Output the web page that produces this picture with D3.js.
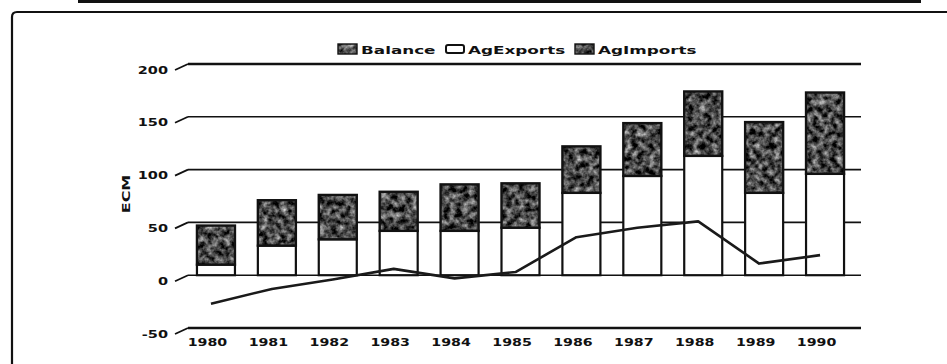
<!DOCTYPE html>
<html>
<head>
<meta charset="utf-8">
<script src="https://cdn.jsdelivr.net/npm/d3@7/dist/d3.min.js"></script>
<style>
  html, body { margin: 0; padding: 0; background: #fff; }
  svg { display: block; }
  text { font-family: "DejaVu Sans", sans-serif; font-weight: bold; fill: #111; }
</style>
</head>
<body>
<svg id="chart" width="947" height="364"></svg>
<script>
// ---- data ----
const years = ["1980","1981","1982","1983","1984","1985","1986","1987","1988","1989","1990"];
const agExports = [10, 28, 34, 42, 42, 45, 78, 94, 113, 78, 96];
const agImports = [37, 43, 42, 37, 44, 42, 44, 50, 61, 67, 77];
const balance   = [-27, -13, -4, 6, -3, 3, 36, 45, 51, 11, 19];
const yTicks = [-50, 0, 50, 100, 150, 200];
const legendItems = ["Balance", "AgExports", "AgImports"];
const yTitle = "ECM";

// ---- setup ----
const svg = d3.select("#chart");
const defs = svg.append("defs");
const filt = defs.append("filter").attr("id", "grain")
  .attr("color-interpolation-filters", "sRGB")
  .attr("x", "0").attr("y", "0").attr("width", "1").attr("height", "1");
filt.append("feTurbulence").attr("type", "fractalNoise")
  .attr("baseFrequency", "0.16").attr("numOctaves", "3").attr("seed", "7").attr("result", "n");
filt.append("feColorMatrix").attr("in", "n").attr("type", "matrix")
  .attr("values", "1.3 0 0 0 -0.36  1.3 0 0 0 -0.36  1.3 0 0 0 -0.36  0 0 0 0 1")
  .attr("result", "g");
filt.append("feComposite").attr("in", "g").attr("in2", "SourceGraphic").attr("operator", "in");

const x = d3.scaleBand().domain(years).range([185.5, 855.5])
  .paddingInner(0.376).paddingOuter(0.188);
const y = d3.scaleLinear().domain([-50, 200]).range([328, 64]);
const depthX = 13, depthY = 6; // front-plane offset
const gridX0 = 188, gridX1 = 861;

// ---- frame ----
svg.append("rect").attr("x", 78).attr("y", 0).attr("width", 843).attr("height", 3).attr("fill", "#111");
svg.append("path")
  .attr("d", "M12,364 L12,17 Q12,12 17,12 L947,12")
  .attr("fill", "none").attr("stroke", "#111").attr("stroke-width", 2.2);

// ---- gridlines + y tick labels ----
const gy = svg.append("g");
yTicks.forEach(t => {
  const yy = y(t);
  const heavy = (t === -50 || t === 200);
  gy.append("line").attr("x1", gridX0).attr("x2", gridX1).attr("y1", yy).attr("y2", yy)
    .attr("stroke", "#111").attr("stroke-width", heavy ? 2.6 : 1.6);
  gy.append("line").attr("x1", gridX0 - depthX).attr("y1", yy + depthY)
    .attr("x2", gridX0).attr("y2", yy)
    .attr("stroke", "#111").attr("stroke-width", 1.8);
  gy.append("g").attr("transform", `translate(168,${yy + depthY + 3.5}) scale(1.45,1)`)
    .append("text").attr("text-anchor", "end").attr("font-size", 10).text(t);
});

// ---- y title ----
svg.append("g").attr("transform", `translate(130,194) rotate(-90) scale(1.45,1)`)
  .append("text").attr("text-anchor", "middle").attr("font-size", 11).text(yTitle);

// ---- bars ----
const gb = svg.append("g");
years.forEach((yr, i) => {
  const bx = x(yr), bw = x.bandwidth();
  const y0 = y(0), y1 = y(agExports[i]), y2 = y(agExports[i] + agImports[i]);
  // exports (white)
  gb.append("rect").attr("x", bx).attr("y", y1).attr("width", bw).attr("height", y0 - y1)
    .attr("fill", "#fff").attr("stroke", "#111").attr("stroke-width", 2.2);
  // imports (textured dark)
  gb.append("rect").attr("x", bx).attr("y", y2).attr("width", bw).attr("height", y1 - y2)
    .attr("fill", "#555").attr("filter", "url(#grain)");
  gb.append("rect").attr("x", bx).attr("y", y2).attr("width", bw).attr("height", y1 - y2)
    .attr("fill", "none").attr("stroke", "#111").attr("stroke-width", 2.4);
});

// ---- balance line ----
const line = d3.line()
  .x((d, i) => x(years[i]) + x.bandwidth() / 2 - 5)
  .y(d => y(d));
svg.append("path").datum(balance).attr("d", line)
  .attr("fill", "none").attr("stroke", "#1a1a1a").attr("stroke-width", 2.6)
  .attr("stroke-linejoin", "round");

// ---- x labels ----
years.forEach(yr => {
  svg.append("g")
    .attr("transform", `translate(${x(yr) + x.bandwidth() / 2 - 8.5},346) scale(1.42,1)`)
    .append("text").attr("text-anchor", "middle").attr("font-size", 10).text(yr);
});

// ---- legend ----
const lg = svg.append("g");
const swX = [338, 445, 575];
legendItems.forEach((name, i) => {
  const sx = swX[i];
  if (i === 1) {
    lg.append("rect").attr("x", sx + 1).attr("y", 45).attr("width", 18).attr("height", 8)
      .attr("rx", 2).attr("fill", "#fff").attr("stroke", "#111").attr("stroke-width", 2);
  } else {
    lg.append("rect").attr("x", sx).attr("y", 44).attr("width", 19).attr("height", 10)
      .attr("fill", "#333").attr("filter", "url(#grain)");
    lg.append("rect").attr("x", sx).attr("y", 44).attr("width", 19).attr("height", 10)
      .attr("fill", "none").attr("stroke", "#111").attr("stroke-width", 1.4);
  }
  lg.append("g").attr("transform", `translate(${sx + 23},53.5) scale(1.6,1)`)
    .append("text").attr("font-size", 10.5).text(name);
});
</script>
</body>
</html>
